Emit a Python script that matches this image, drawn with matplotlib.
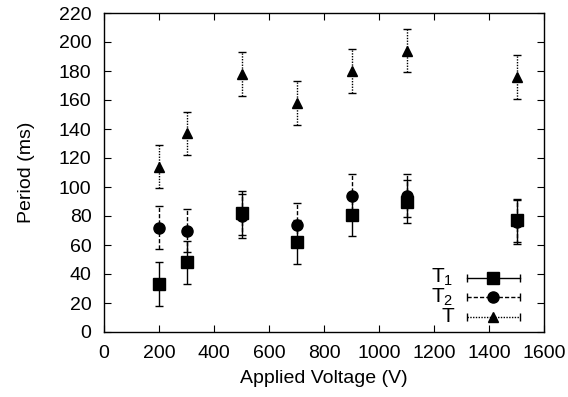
import matplotlib
matplotlib.use("Agg")
import matplotlib.pyplot as plt

plt.rcParams['font.family'] = ['Liberation Sans', 'DejaVu Sans']
plt.rcParams['mathtext.fontset'] = 'custom'
plt.rcParams['mathtext.rm'] = 'Liberation Sans'
plt.rcParams['mathtext.it'] = 'Liberation Sans'

voltage = [200, 300, 500, 700, 900, 1100, 1500]
T1 = [33, 48, 82, 62, 81, 90, 77]
T1_err = [15, 15, 15, 15, 15, 15, 15]
T2 = [72, 70, 80, 74, 94, 94, 76]
T2_err = [15, 15, 15, 15, 15, 15, 15]
T = [114, 137, 178, 158, 180, 194, 176]
T_err = [15, 15, 15, 15, 15, 15, 15]

fig = plt.figure(figsize=(5.68, 3.97), dpi=100)
ax = fig.add_axes([104/568, 1 - 332/397, 440/568, 319/397])

series = [
    (T1, T1_err, 's', '-', 8, 'T$_\\mathrm{1}$'),
    (T2, T2_err, 'o', (0, (3, 1.5)), 8, 'T$_\\mathrm{2}$'),
    (T, T_err, '^', (0, (1, 1)), 7, 'T'),
]
for vals, err, mk, ls, ms, lab in series:
    eb = ax.errorbar(voltage, vals, yerr=err, fmt=mk, color='black', ms=ms,
                     ecolor='black', elinewidth=1, capsize=3, capthick=1)
    eb[2][0].set_linestyle(ls)

ax.set_xlim(0, 1600)
ax.set_ylim(0, 220)
ax.set_xticks(range(0, 1601, 200))
ax.set_yticks(range(0, 221, 20))
ax.tick_params(direction='in', top=True, right=True, length=5, width=0.8,
               labelsize=14)
ax.tick_params(axis='x', pad=9)
ax.tick_params(axis='y', pad=9)
ax.set_xlabel('Applied Voltage (V)', fontsize=14, labelpad=6)
ax.set_ylabel('Period (ms)', fontsize=14, labelpad=17)
for s in ax.spines.values():
    s.set_linewidth(1)

# gnuplot-style legend
rows = [0.170, 0.110, 0.048]
for (vals, err, mk, ls, ms, lab), yy in zip(series, rows):
    ax.text(0.795, yy, lab, transform=ax.transAxes, ha='right', va='center',
            fontsize=15)
    ax.plot([0.826, 0.946], [yy, yy], transform=ax.transAxes, color='black',
            lw=1, ls=ls)
    ax.plot([0.826, 0.946], [yy, yy], transform=ax.transAxes, color='black',
            lw=0, marker='|', ms=6, mew=1)
    ax.plot([0.885], [yy], transform=ax.transAxes, color='black', marker=mk,
            ms=ms, lw=0)

fig.savefig('out.png', dpi=100)
